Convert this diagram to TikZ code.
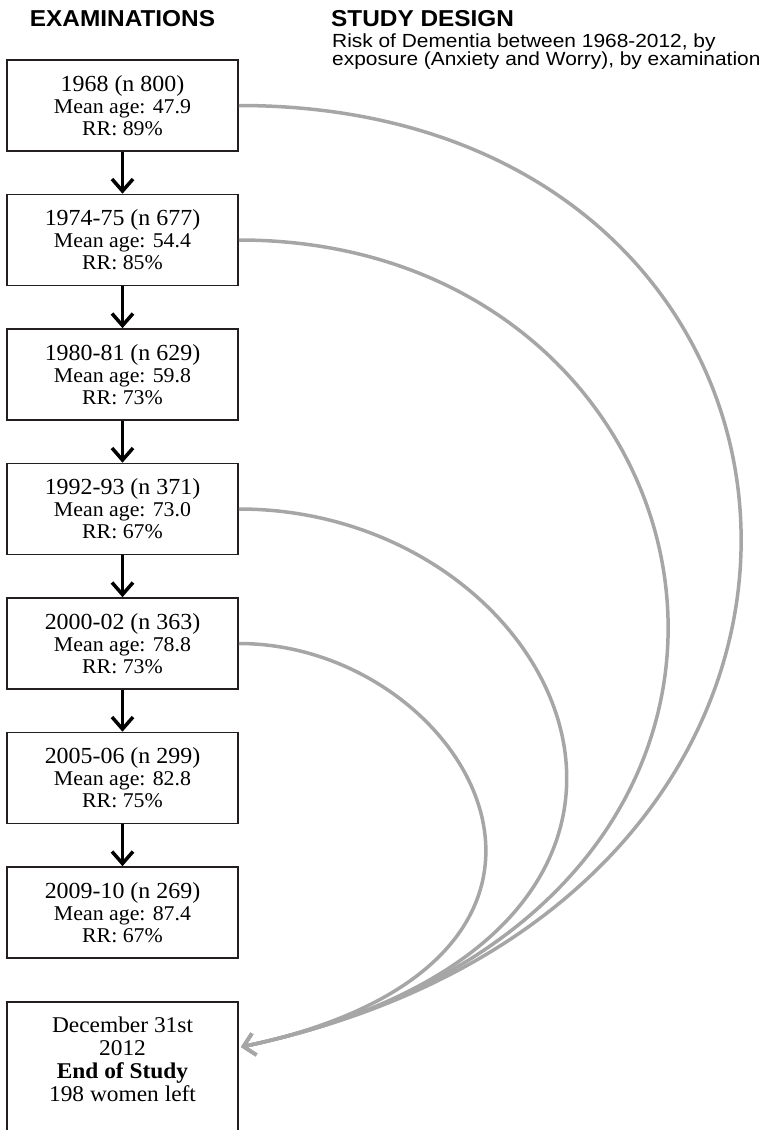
\documentclass[tikz,border=0pt]{standalone}
\usepackage{fontspec}
\setmainfont[FakeStretch=1.04]{Liberation Serif}
\newfontfamily\headfont[FakeStretch=1.06]{Liberation Sans}
\newfontfamily\notefont[FakeStretch=1.1]{Liberation Sans}
\usetikzlibrary{arrows.meta,calc}
\definecolor{FlowGray}{HTML}{A6A6A6}
\definecolor{BoxLine}{HTML}{231F20}

\tikzset{
  exambox/.style={draw=BoxLine, line width=1.6pt, minimum width=231pt, minimum height=91pt,
    inner sep=0pt, align=center, font=\fontsize{21}{22}\selectfont},
  endbox/.style={minimum width=231pt, minimum height=114pt, inner sep=0pt, align=center,
    font=\fontsize{22.5}{23}\selectfont},
  downarrow/.style={line width=3.5pt, -{Straight Barb[length=12pt,width=21pt]}},
  flow/.style={FlowGray, line width=3.5pt, -{Straight Barb[length=11pt,width=22pt]}},
  headline/.style={font=\headfont\bfseries\fontsize{23}{25}\selectfont, inner sep=0pt},
  subline/.style={font=\notefont\fontsize{19}{18}\selectfont, inner sep=0pt, align=left},
}

\begin{document}
\begin{tikzpicture}[x=1pt,y=-1pt]
   \useasboundingbox (0,0) rectangle (766,1130);
   % headings
   \node[headline] (exhead) at (122.5,19) {EXAMINATIONS};
   \node[headline,anchor=west] (sdhead) at (331,19) {STUDY DESIGN};
   \node[subline,anchor=north west] (sdtext) at (332,34)
     {Risk of Dementia between 1968-2012, by\\exposure (Anxiety and Worry), by examination};
   % examinations
   \foreach \i/\yr/\cnt/\age/\rr in {1/1968/800/47.9/89, 2/1974-75/677/54.4/85,
       3/1980-81/629/59.8/73, 4/1992-93/371/73.0/67, 5/2000-02/363/78.8/73,
       6/2005-06/299/82.8/75, 7/2009-10/269/87.4/67}
     \node[exambox] (e\i) at (122.5,{105.5+(\i-1)*134.5})
       {{\fontsize{23}{23}\selectfont \yr\ (n \cnt)}\\Mean age: \age\\RR: \rr\%};
   \foreach \i [count=\j from 2] in {1,...,6}
     \draw[downarrow] (e\i) -- (e\j);
   % end of study
   \node[endbox] (end) at (122.5,1059)
     {December 31st\\2012\\\textbf{End of Study}\\198 women left};
   \draw[draw=BoxLine, line width=1.6pt] (end.south west) ++(0,40) -- (end.north west)
     -- (end.north east) -- ++(0,154);
   \coordinate (tip) at (241,1047);
   % follow-up to end of study
   \draw[flow] (e1.east) .. controls +(630,0) and +(704,-150) .. (tip);
   \draw[flow] (e2.east) .. controls +(500,0) and +(636,-135) .. (tip);
   \draw[flow] (e4.east) .. controls +(330,0) and +(528,-112) .. (tip);
   \draw[flow] (e5.east) .. controls +(230,0) and +(411,-87) .. (tip);
\end{tikzpicture}
\end{document}
